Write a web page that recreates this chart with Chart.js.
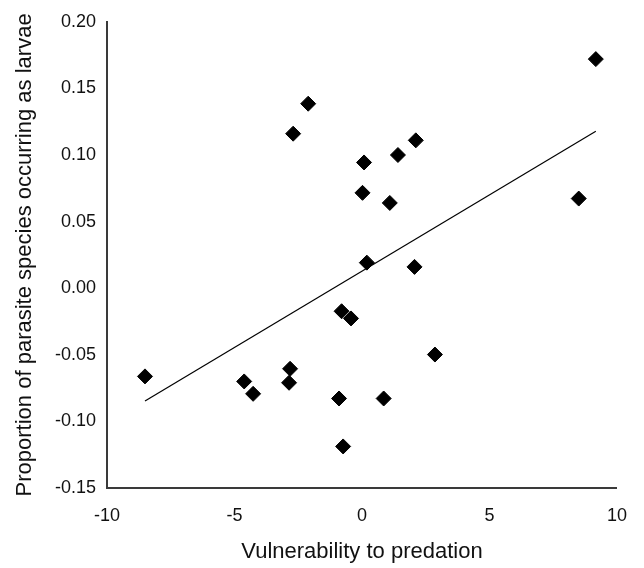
<!DOCTYPE html>
<html>
<head>
<meta charset="utf-8">
<style>
  html, body { margin: 0; padding: 0; background: #fff; }
  #wrap { width: 644px; height: 568px; }
</style>
<script src="https://cdn.jsdelivr.net/npm/chart.js@4/dist/chart.umd.min.js"></script>
</head>
<body>
<div id="wrap"><canvas id="myChart" width="644" height="568"></canvas></div>
<script>
// Species values: vulnerability score vs share of parasites found as larvae
const vulnerability = [9.17, -2.11, -2.70, 2.11, 1.41, 0.08, 0.02, 1.09, 8.50, 0.19, 2.06,
    -0.80, -0.43, 2.86, -8.51, -4.62, -4.27, -2.82, -2.86, -0.90, 0.85, -0.74];
const larvalShare = [0.172, 0.1385, 0.116, 0.111, 0.100, 0.0944, 0.0716, 0.064, 0.0673, 0.0192, 0.016,
    -0.0173, -0.0227, -0.0498, -0.0662, -0.070, -0.0793, -0.0605, -0.071, -0.0828, -0.0828, -0.1188];

// Fitted line end points
const trendX = [-8.51, 9.17];
const trendY = [-0.0847, 0.1178];

// Axis ticks
const xTicks = [-10, -5, 0, 5, 10];
const yTicks = [-0.15, -0.10, -0.05, 0.00, 0.05, 0.10, 0.15, 0.20];

const fontFamily = "'Liberation Sans', Arial, Helvetica, sans-serif";
const axisColor = '#3a3a3a';
const textColor = '#111';

const points = vulnerability.map((v, i) => ({ x: v, y: larvalShare[i] }));
const trend = trendX.map((v, i) => ({ x: v, y: trendY[i] }));

const ctx = document.getElementById('myChart').getContext('2d');
const myChart = new Chart(ctx, {
    type: 'scatter',
    data: {
        datasets: [{
            label: 'Species',
            data: points,
            pointStyle: 'rectRot',
            pointRadius: 7.5,
            backgroundColor: '#000',
            borderColor: '#000',
            borderWidth: 1,
        }, {
            label: 'Trend',
            type: 'line',
            data: trend,
            borderColor: '#000',
            borderWidth: 1.2,
            pointRadius: 0,
            fill: false,
        }]
    },
    options: {
        responsive: false,
        animation: false,
        layout: {
            padding: { top: 17, right: 24, left: 0, bottom: 0 },
        },
        plugins: {
            legend: { display: false },
            tooltip: { enabled: false },
        },
        scales: {
            x: {
                type: 'linear',
                min: -10,
                max: 10,
                afterBuildTicks: scale => { scale.ticks = xTicks.map(v => ({ value: v })); },
                afterFit: scale => { scale.height = 80; },
                grid: { display: false, drawTicks: false },
                border: { display: true, color: axisColor, width: 2 },
                ticks: {
                    padding: 17,
                    color: textColor,
                    font: { family: fontFamily, size: 18 },
                    maxRotation: 0,
                    callback: v => String(v),
                },
                title: {
                    display: true,
                    text: 'Vulnerability to predation',
                    color: textColor,
                    font: { family: fontFamily, size: 22 },
                    padding: { top: 0, bottom: 3 },
                },
            },
            y: {
                type: 'linear',
                min: -0.15,
                max: 0.20,
                afterBuildTicks: scale => { scale.ticks = yTicks.map(v => ({ value: v })); },
                afterFit: scale => { scale.width = 107; },
                grid: { display: false, drawTicks: false },
                border: { display: true, color: axisColor, width: 2 },
                ticks: {
                    padding: 11,
                    color: textColor,
                    font: { family: fontFamily, size: 18 },
                    callback: v => Number(v).toFixed(2),
                },
                title: {
                    display: true,
                    text: 'Proportion of parasite species occurring as larvae',
                    color: textColor,
                    font: { family: fontFamily, size: 22 },
                    padding: { top: 12, bottom: 0 },
                },
            },
        },
    }
});
</script>
</body>
</html>
